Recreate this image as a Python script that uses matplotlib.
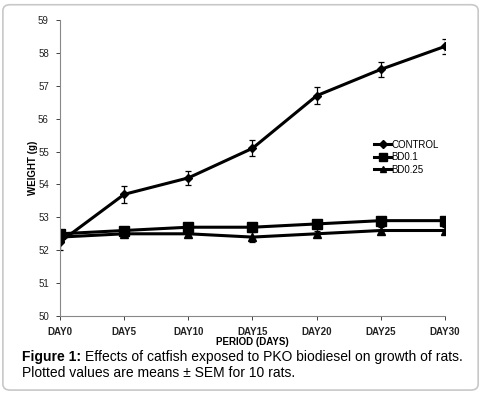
import matplotlib
matplotlib.use("Agg")
import matplotlib.pyplot as plt
from matplotlib.lines import Line2D
from matplotlib.patches import FancyBboxPatch

days = ["DAY0", "DAY5", "DAY10", "DAY15", "DAY20", "DAY25", "DAY30"]

control = [52.25, 53.7, 54.2, 55.1, 56.7, 57.5, 58.2]
control_sem = [0.25, 0.25, 0.22, 0.24, 0.25, 0.24, 0.24]

bd01 = [52.5, 52.6, 52.7, 52.7, 52.8, 52.9, 52.9]
bd01_sem = [0.08, 0.08, 0.1, 0.1, 0.1, 0.1, 0.1]

bd025 = [52.4, 52.5, 52.5, 52.4, 52.5, 52.6, 52.6]
bd025_sem = [0.12, 0.1, 0.1, 0.15, 0.1, 0.12, 0.12]

plt.rcParams["font.family"] = ["Liberation Sans", "DejaVu Sans"]

fig = plt.figure(figsize=(4.83, 3.94), dpi=100)

# rounded frame round the whole figure
frame = FancyBboxPatch((0.006, 0.01), 0.984, 0.978, boxstyle="round,pad=0,rounding_size=0.015",
                       transform=fig.transFigure, fill=False, edgecolor="#c8c8c8", linewidth=1.2)
fig.patches.append(frame)

ax = fig.add_axes([0.1242, 0.198, 0.797, 0.751])
x = list(range(len(days)))

series = [
    ("CONTROL", control, control_sem, "D", 4.5),
    ("BD0.1", bd01, bd01_sem, "s", 6.5),
    ("BD0.25", bd025, bd025_sem, "^", 6),
]
handles = []
for name, vals, err, marker, ms in series:
    ax.errorbar(x, vals, yerr=err, color="black", linewidth=2.2, marker=marker, markersize=ms,
                elinewidth=0.9, capsize=2.5, capthick=0.9)
    handles.append(Line2D([], [], color="black", linewidth=2.2, marker=marker, markersize=ms * 0.8,
                          label=name))

ax.set_xlim(0, len(days) - 1)
ax.set_ylim(50, 59)
ax.set_xticks(x)
ax.set_xticklabels(days, fontsize=7, fontweight="bold", color="#222222")
ax.set_yticks(range(50, 60))
ax.tick_params(axis="y", labelsize=7, colors="#222222", length=3, width=0.6, pad=5)
ax.tick_params(axis="x", length=3, width=0.6, colors="#222222", pad=5)

for side in ["top", "right"]:
    ax.spines[side].set_visible(False)
for side in ["left", "bottom"]:
    ax.spines[side].set_color("#888888")
    ax.spines[side].set_linewidth(0.8)

ax.set_xlabel("PERIOD (DAYS)", fontsize=7, fontweight="bold", labelpad=0)
ax.set_ylabel("WEIGHT (g)", fontsize=7, fontweight="bold", labelpad=0)

ax.legend(handles=handles, loc="upper left", bbox_to_anchor=(0.804, 0.612), frameon=False,
          fontsize=7, handlelength=1.75, handletextpad=0.0, labelspacing=0.25, borderpad=0)

fig.text(0.045, 0.085, "Figure 1:", fontsize=10, fontweight="bold")
fig.text(0.045 + 0.132, 0.085, "Effects of catfish exposed to PKO biodiesel on growth of rats.",
         fontsize=10)
fig.text(0.045, 0.044, "Plotted values are means \u00b1 SEM for 10 rats.", fontsize=10)

fig.savefig("out.png", dpi=100)
